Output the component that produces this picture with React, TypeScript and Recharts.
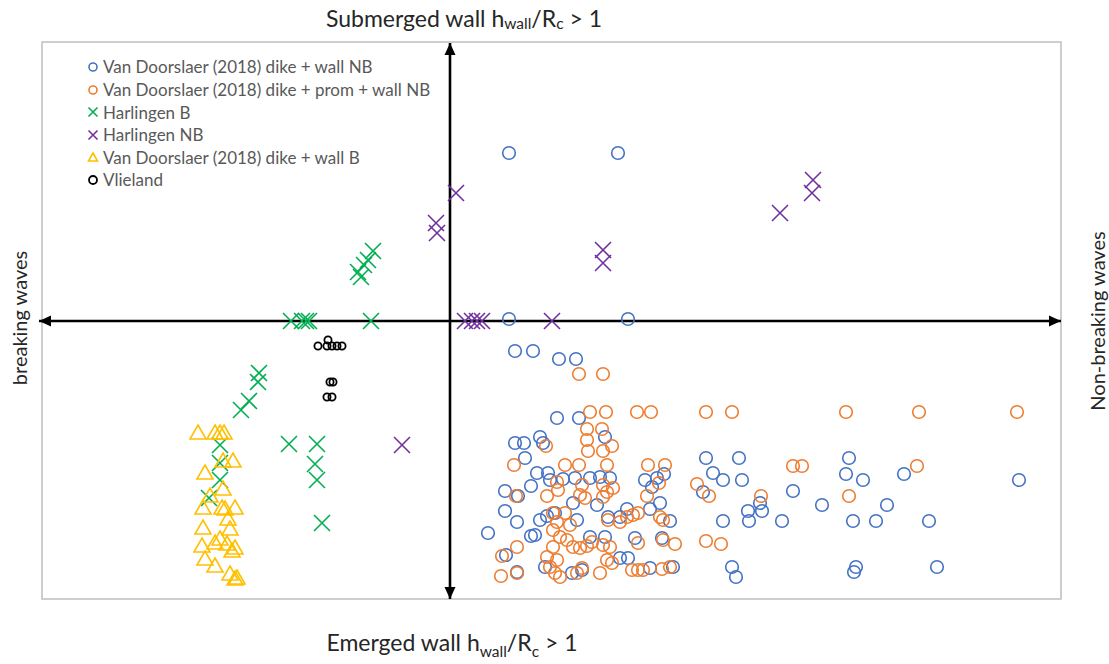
import React from "react";
import {
  ScatterChart,
  Scatter,
  XAxis,
  YAxis,
  ReferenceLine,
  ReferenceArea,
  Legend,
} from "recharts";

const FONT = "Lato, 'Open Sans', sans-serif";

// Values. The plot has no ticks, so units are arbitrary:
// origin is where the two arrows cross, x to the right, y upwards.
const doorslaerWallNB: [number, number][] = [
  [59, 168], [168, 168], [59, 2], [178, 2], [65, -30], [83, -30], [109, -38], [126, -38],
  [107, -97], [129, -97], [65, -122], [74, -122], [90, -116], [93, -122], [155, -116],
  [75, -137], [87, -152], [98, -152], [100, -159], [113, -158], [125, -157], [140, -157],
  [150, -156], [160, -157], [55, -170], [81, -165], [68, -175], [195, -159], [202, -166],
  [207, -157], [214, -153], [55, -190], [67, -201], [123, -182], [147, -184], [90, -199],
  [97, -195], [105, -192], [127, -199], [158, -196], [170, -196], [177, -188], [200, -188],
  [210, -182], [220, -200], [38, -212], [81, -215], [85, -214], [140, -216], [155, -216],
  [185, -217], [212, -217], [256, -137], [289, -137], [263, -152], [273, -159], [292, -159],
  [273, -200], [298, -190], [310, -182], [312, -190], [299, -200], [56, -234], [67, -251],
  [95, -246], [122, -252], [132, -249], [170, -237], [178, -237], [200, -247], [223, -246],
  [282, -246], [286, -256], [399, -137], [396, -153], [413, -159], [454, -153], [569, -159],
  [343, -170], [372, -184], [437, -184], [332, -200], [403, -200], [426, -200], [479, -200],
  [406, -246], [404, -251], [487, -246], [253, -171],
];

const doorslaerPromNB: [number, number][] = [
  [129, -53], [153, -53], [140, -91], [156, -91], [187, -91], [201, -91], [256, -91],
  [282, -91], [396, -91], [469, -91], [567, -91], [343, -145], [352, -145], [467, -145],
  [259, -175], [311, -175], [399, -175], [256, -220], [271, -223], [137, -108], [152, -108],
  [137, -119], [138, -130], [153, -130], [162, -125], [96, -125], [64, -144], [115, -144],
  [129, -144], [157, -144], [198, -144], [215, -144], [107, -161], [108, -169], [132, -164],
  [130, -174], [135, -177], [153, -164], [157, -171], [163, -167], [153, -176], [66, -175],
  [97, -175], [197, -175], [209, -162], [247, -163], [103, -192], [107, -201], [115, -192],
  [120, -204], [103, -209], [110, -216], [117, -219], [123, -226], [130, -227], [137, -225],
  [142, -221], [153, -224], [160, -226], [103, -226], [97, -236], [107, -239], [100, -246],
  [105, -252], [110, -256], [127, -252], [132, -247], [150, -252], [157, -239], [162, -242],
  [158, -199], [170, -201], [177, -196], [183, -194], [188, -192], [210, -196], [213, -199],
  [188, -222], [213, -219], [225, -223], [182, -249], [188, -249], [193, -249], [212, -248],
  [220, -246], [52, -235], [67, -226], [51, -255], [67, -252],
];

const harlingenB: [number, number][] = [
  [-77, 70], [-82, 61], [-86, 56], [-92, 49], [-89, 44], [-159, 0], [-148, 0], [-144, 0],
  [-141, 0], [-79, 0], [-191, -52], [-192, -61], [-201, -80], [-209, -89], [-161, -123],
  [-133, -123], [-135, -143], [-133, -159], [-128, -202], [-230, -124], [-230, -142],
  [-230, -159], [-241, -177],
];

const harlingenNB: [number, number][] = [
  [-14, 98], [-13, 88], [6, 128], [153, 71], [153, 58], [330, 108], [363, 141], [362, 128],
  [15, 0], [22, 0], [27, 0], [32, 0], [102, 0], [-48, -124],
];

const doorslaerWallB: [number, number][] = [
  [-252, -111], [-235, -111], [-230, -111], [-226, -111], [-217, -139], [-227, -139],
  [-245, -151], [-227, -167], [-240, -174], [-247, -186], [-228, -186], [-215, -186],
  [-225, -187], [-222, -197], [-247, -206], [-220, -207], [-248, -224], [-235, -221],
  [-223, -222], [-215, -226], [-230, -217], [-218, -229], [-245, -237], [-235, -244],
  [-220, -252], [-213, -256], [-215, -257],
];

const vlieland: [number, number][] = [
  [-132, -25], [-123, -25], [-118, -25], [-113, -25], [-108, -25], [-122, -19],
  [-120, -61], [-117, -61], [-123, -76], [-118, -76],
];

type Kind = "circle" | "x" | "triangle" | "dot";

const SERIES: { name: string; data: [number, number][]; color: string; kind: Kind }[] = [
  { name: "Van Doorslaer (2018) dike + wall NB", data: doorslaerWallNB, color: "#4472C4", kind: "circle" },
  { name: "Van Doorslaer (2018) dike + prom + wall NB", data: doorslaerPromNB, color: "#ED7D31", kind: "circle" },
  { name: "Harlingen B", data: harlingenB, color: "#00B050", kind: "x" },
  { name: "Harlingen NB", data: harlingenNB, color: "#7030A0", kind: "x" },
  { name: "Van Doorslaer (2018) dike + wall B", data: doorslaerWallB, color: "#FFC000", kind: "triangle" },
  { name: "Vlieland", data: vlieland, color: "#000000", kind: "dot" },
];

const X_DOMAIN: [number, number] = [-408, 611];
const Y_DOMAIN: [number, number] = [-278, 279];

function Marker({ cx, cy, kind, color, small }: { cx: number; cy: number; kind: Kind; color: string; small?: boolean }) {
  if (kind === "circle") {
    return <circle cx={cx} cy={cy} r={small ? 4 : 6.3} fill="none" stroke={color} strokeWidth={1.6} />;
  }
  if (kind === "dot") {
    return <circle cx={cx} cy={cy} r={small ? 4 : 3.6} fill="none" stroke={color} strokeWidth={1.8} />;
  }
  if (kind === "x") {
    const h = small ? 4.5 : 8;
    return (
      <path
        d={`M${cx - h},${cy - h}L${cx + h},${cy + h}M${cx - h},${cy + h}L${cx + h},${cy - h}`}
        stroke={color}
        strokeWidth={1.6}
        fill="none"
      />
    );
  }
  const w = small ? 4.5 : 8;
  const h = small ? 4 : 7;
  return (
    <polygon
      points={`${cx},${cy - h} ${cx + w},${cy + h} ${cx - w},${cy + h}`}
      fill="none"
      stroke={color}
      strokeWidth={1.6}
    />
  );
}

function ArrowLine(props: any) {
  const { x1, y1, x2, y2 } = props;
  const a = Math.atan2(y2 - y1, x2 - x1);
  const head = (x: number, y: number, ang: number) => {
    const L = 12;
    const W = 5.5;
    const bx = x - L * Math.cos(ang);
    const by = y - L * Math.sin(ang);
    return `${x},${y} ${bx - W * Math.sin(ang)},${by + W * Math.cos(ang)} ${bx + W * Math.sin(ang)},${by - W * Math.cos(ang)}`;
  };
  return (
    <g>
      <line x1={x1} y1={y1} x2={x2} y2={y2} stroke="#000" strokeWidth={2.6} />
      <polygon points={head(x2, y2, a)} fill="#000" />
      <polygon points={head(x1, y1, a + Math.PI)} fill="#000" />
    </g>
  );
}

const renderLegend = () => (
  <div style={{ fontFamily: FONT, fontSize: 17, color: "#595959", lineHeight: 1 }}>
    {SERIES.map((s) => (
      <div key={s.name} style={{ display: "flex", alignItems: "center", height: 22.6 }}>
        <svg width={12} height={12} style={{ marginRight: 4.5, flex: "none" }}>
          <Marker cx={6} cy={6} kind={s.kind} color={s.color} small />
        </svg>
        <span style={{ whiteSpace: "nowrap" }}>{s.name}</span>
      </div>
    ))}
  </div>
);

export default function App() {
  return (
    <div style={{ position: "absolute", left: 0, top: 0, width: 1109, height: 664, background: "#fff" }}>
      <ScatterChart width={1109} height={664} margin={{ top: 42, right: 48, bottom: 65, left: 42 }}>
        <XAxis type="number" dataKey="x" domain={X_DOMAIN} hide allowDataOverflow />
        <YAxis type="number" dataKey="y" domain={Y_DOMAIN} hide allowDataOverflow />
        <ReferenceArea
          x1={X_DOMAIN[0]}
          x2={X_DOMAIN[1]}
          y1={Y_DOMAIN[0]}
          y2={Y_DOMAIN[1]}
          fill="none"
          fillOpacity={0}
          stroke="#bfbfbf"
          strokeWidth={1.5}
          ifOverflow="visible"
        />
        <ReferenceLine
          segment={[{ x: -411, y: 0 }, { x: 611, y: 0 }]}
          ifOverflow="visible"
          shape={ArrowLine}
        />
        <ReferenceLine
          segment={[{ x: 0, y: 278 }, { x: 0, y: -278 }]}
          ifOverflow="visible"
          shape={ArrowLine}
        />
        {SERIES.map((s) => (
          <Scatter
            key={s.name}
            name={s.name}
            data={s.data.map(([x, y]) => ({ x, y }))}
            isAnimationActive={false}
            shape={(p: any) => <Marker cx={p.cx} cy={p.cy} kind={s.kind} color={s.color} />}
          />
        ))}
        <Legend
          layout="vertical"
          align="center"
          verticalAlign="middle"
          content={renderLegend}
          wrapperStyle={{ top: 55.7, left: 86.5, width: "auto", height: "auto" }}
        />
      </ScatterChart>
      <svg
        width={1109}
        height={664}
        style={{ position: "absolute", left: 0, top: 0, pointerEvents: "none" }}
        fontFamily={FONT}
        fill="#262626"
      >
        <text x={464} y={27} fontSize={23} textAnchor="middle">
          Submerged wall h
          <tspan fontSize={15.5} dy={1.5}>wall</tspan>
          <tspan dy={-1.5}>/R</tspan>
          <tspan fontSize={15.5} dy={1.5}>c</tspan>
          <tspan dy={-1.5}> &gt; 1</tspan>
        </text>
        <text x={452} y={651} fontSize={23} textAnchor="middle">
          Emerged wall h
          <tspan fontSize={15.5} dy={6}>wall</tspan>
          <tspan dy={-6}>/R</tspan>
          <tspan fontSize={15.5} dy={6}>c</tspan>
          <tspan dy={-6}> &gt; 1</tspan>
        </text>
        <text transform="translate(19,318) rotate(-90)" fontSize={20} textAnchor="middle" dominantBaseline="central">
          breaking waves
        </text>
        <text transform="translate(1097,321) rotate(-90)" fontSize={20} textAnchor="middle" dominantBaseline="central">
          Non-breaking waves
        </text>
      </svg>
    </div>
  );
}
